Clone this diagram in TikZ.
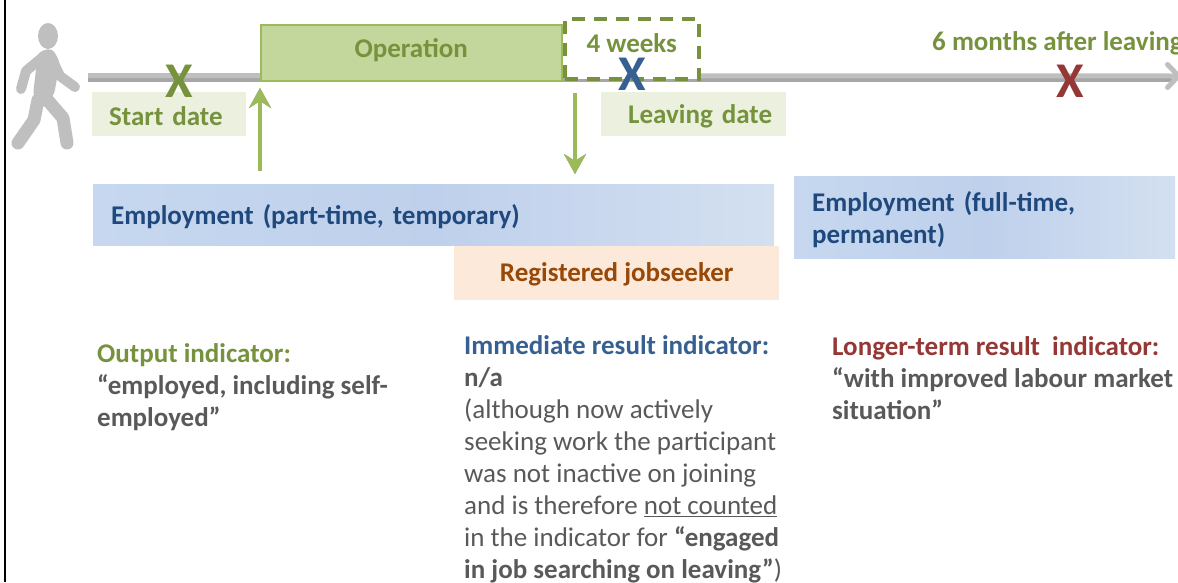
\documentclass[tikz,border=0pt]{standalone}
\usepackage{fontspec}
\setmainfont{Carlito}
\usetikzlibrary{arrows.meta,positioning}
\definecolor{oliveText}{HTML}{76923C}
\definecolor{opGreen}{HTML}{C3D69B}
\definecolor{opEdge}{HTML}{9BBB59}
\definecolor{paleGreen}{HTML}{EBF1DE}
\definecolor{navyText}{HTML}{1F497D}
\definecolor{steelText}{HTML}{366092}
\definecolor{redText}{HTML}{953735}
\definecolor{rustText}{HTML}{984807}
\definecolor{paleOrange}{HTML}{FDE9D9}
\definecolor{bodyGrey}{HTML}{595959}
\definecolor{barLeft}{HTML}{C6D7EF}
\definecolor{barMid}{HTML}{BFD0EC}
\definecolor{barRight}{HTML}{D3E0F0}
\definecolor{walkerGrey}{HTML}{BFBFBF}
\tikzset{
  boldlabel/.style={font=\fontsize{27}{32}\selectfont\bfseries},
  datebox/.style={boldlabel, fill=paleGreen, text=oliveText, anchor=north west, inner sep=0pt, align=left, minimum height=44pt, text height=23pt},
  jobbox/.style={boldlabel, left color=barLeft, right color=barRight, middle color=barMid, text=navyText, anchor=north west, inner sep=0pt, align=left},
  indicator/.style={anchor=north west, inner sep=0pt, align=left, text=bodyGrey, font=\fontsize{27}{32}\selectfont},
  mark x/.style={font=\fontsize{50}{50}\selectfont\bfseries},
  limb/.style={walkerGrey, line cap=round, line join=round},
  flow/.style={draw=opEdge, line width=4.5pt, -{Stealth[length=20pt,width=22pt,inset=7pt]}},
  flowshadow/.style={draw=black!45, line width=4.5pt, -{Stealth[length=20pt,width=22pt,inset=7pt]}, shift={(1pt,-1.5pt)}}
}
\begin{document}
\begin{tikzpicture}[x=1pt,y=-1pt]
\useasboundingbox (0,0) rectangle (1178,582);
% left edge of the slide
\draw[line width=2pt] (5,0) -- (5,582);

% walking figure
\fill[walkerGrey] (48,36) ellipse (10 and 13);
\fill[walkerGrey, rounded corners=5pt] (38,52) -- (52,48) -- (60,62) -- (54,95) -- (41,110) -- (33,95) -- cycle;
\draw[limb, line width=10pt] (44,56) -- (26,71) -- (21,89);
\draw[limb, line width=10pt] (50,55) -- (60,76) -- (75,87);
\draw[limb, line width=13pt] (38,100) -- (34,120) -- (18,143);
\draw[limb, line width=13pt] (44,96) -- (63,118) -- (67,143);

% timeline
\coordinate (lineStart) at (88,78);
\coordinate (lineEnd) at (1181,76);
\draw[black!35, line width=8pt] (lineStart) -- (1172,78);
\draw[black!25, line width=5pt, -{Straight Barb[length=11pt,width=23pt,round]}] (88,75.5) -- (lineEnd);

% boxes on the timeline
\node[boldlabel, draw=opEdge, fill=opGreen, line width=1.5pt, minimum width=301pt, minimum height=56pt, anchor=north west, inner sep=0pt,
  text=oliveText, text depth=10pt] (operation) at (260,24) {Operation};
\node[boldlabel, draw=oliveText, fill=white, line width=3.5pt, dash pattern=on 13pt off 9pt, minimum width=134pt, minimum height=60pt, anchor=north west, inner sep=0pt,
  text=oliveText, text depth=12pt] (fourWeeks) at (563,17) {4 weeks};
\node[boldlabel, text=oliveText, anchor=west, inner sep=0pt] (sixMonths) at (932,43) {6 months after leaving};

% date labels
\node[datebox, minimum width=154pt, text width=154pt] (startDate) at (92,92) {\hspace*{17pt}Start date};
\node[datebox, minimum width=185pt, text width=185pt] (leavingDate) at (601,92) {\hspace*{27pt}Leaving date};

% crosses
\node[mark x, text=oliveText] (startMark) at (179,81) {X};
\node[mark x, text=steelText] (leaveMark) at (632,74) {X};
\node[mark x, text=redText] (sixMark) at (1070,81) {X};

% employment bars
\node[jobbox, minimum width=681pt, minimum height=61pt, text width=645pt, text height=24pt] (partTime) at (93,184) {Employment (part-time, temporary)};
\node[jobbox, minimum width=381pt, minimum height=82pt, text width=345pt, text height=24pt] (fullTime) at (794,176) {Employment (full-time,\\permanent)};
\node[boldlabel, fill=paleOrange, text=rustText, minimum width=325pt, minimum height=54pt, anchor=north west, inner sep=0pt, text height=22pt] (jobseeker) at (454,246) {Registered jobseeker};

% arrows to and from the operation
\coordinate (upFoot) at (260,171);
\coordinate (upHead) at (260,88);
\coordinate (downFoot) at (575,93);
\coordinate (downHead) at (575,174);
\draw[flowshadow] (upFoot) -- (upHead);
\draw[flowshadow] (downFoot) -- (downHead);
\draw[flow] (upFoot) -- (upHead);
\draw[flow] (downFoot) -- (downHead);

% indicator texts
\node[indicator] (outputText) at (97,343) {\textbf{\textcolor{oliveText}{Output indicator:}}\\\textbf{“employed, including self-}\\\textbf{employed”}};
\node[indicator] (immediateText) at (464,335) {\textbf{\textcolor{steelText}{Immediate result indicator:}}\\\textbf{n/a}\\(although now actively\\seeking work the participant\\was not inactive on joining\\and is therefore \underline{not counted}\\in the indicator for \textbf{“engaged}\\\textbf{in job searching on leaving”})};
\node[indicator] (longerText) at (832,336) {\textbf{\textcolor{redText}{Longer-term result\ \ indicator:}}\\\textbf{“with improved labour market}\\\textbf{situation”}};
\end{tikzpicture}
\end{document}
